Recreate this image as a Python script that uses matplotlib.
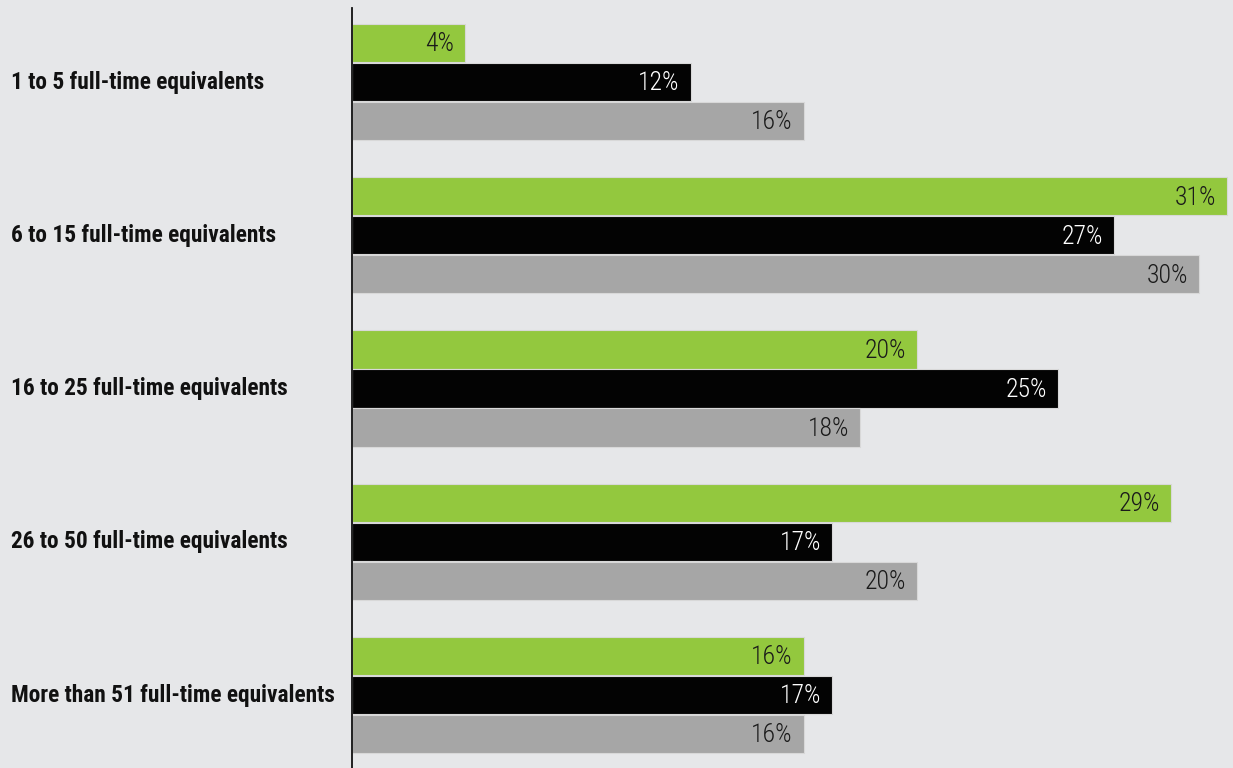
import matplotlib
matplotlib.use("Agg")
import matplotlib.pyplot as plt
import numpy as np

# categories and three series (percent)
categories = ["1 to 5 full-time equivalents",
              "6 to 15 full-time equivalents",
              "16 to 25 full-time equivalents",
              "26 to 50 full-time equivalents",
              "More than 51 full-time equivalents"]
green_vals = [4, 31, 20, 29, 16]
black_vals = [12, 27, 25, 17, 17]
gray_vals = [16, 30, 18, 20, 16]

plt.rcParams['font.family'] = ['Roboto Condensed', 'DejaVu Sans']

bg = "#e6e7e9"
colors = ["#93c83e", "#030303", "#a6a6a6"]
text_colors = ["#1a1a1a", "white", "#1a1a1a"]

W, H = 1233, 768
fig = plt.figure(figsize=(W / 100, H / 100), dpi=100, facecolor=bg)
ax = fig.add_axes([352 / W, 0, 1 - 352 / W, 760 / H])
ax.set_facecolor(bg)

pitch = 3.93
x = np.arange(len(categories)) * pitch
series = [green_vals, black_vals, gray_vals]
for k, vals in enumerate(series):
    y = x + (k - 1) * 1.0
    ax.barh(y, vals, height=0.98, color=colors[k], edgecolor="#d8d8d8",
            linewidth=0.8)
    for yy, v in zip(y, vals):
        ax.annotate(f"{v}%", (v, yy + 0.03), xytext=(-8, 0), textcoords="offset points",
                    ha="right", va="center", fontsize=18.5, fontweight=300,
                    color=text_colors[k])

ax.set_xlim(0, 31.2)
ax.set_ylim(17.59, -1.9)
for s in ["top", "right", "bottom"]:
    ax.spines[s].set_visible(False)
ax.spines["left"].set_linewidth(1.3)
ax.spines["left"].set_color("#111111")
ax.set_xticks([])
ax.set_yticks([])

# category labels on the left
for yc, lab in zip(x, categories):
    fy = (760 - (yc + 1.9) * 39) / H
    fig.text(11 / W, fy, lab, ha="left", va="center", fontsize=16.8,
             fontweight="bold", color="#111111")

fig.savefig("out.png", dpi=100, facecolor=bg)
